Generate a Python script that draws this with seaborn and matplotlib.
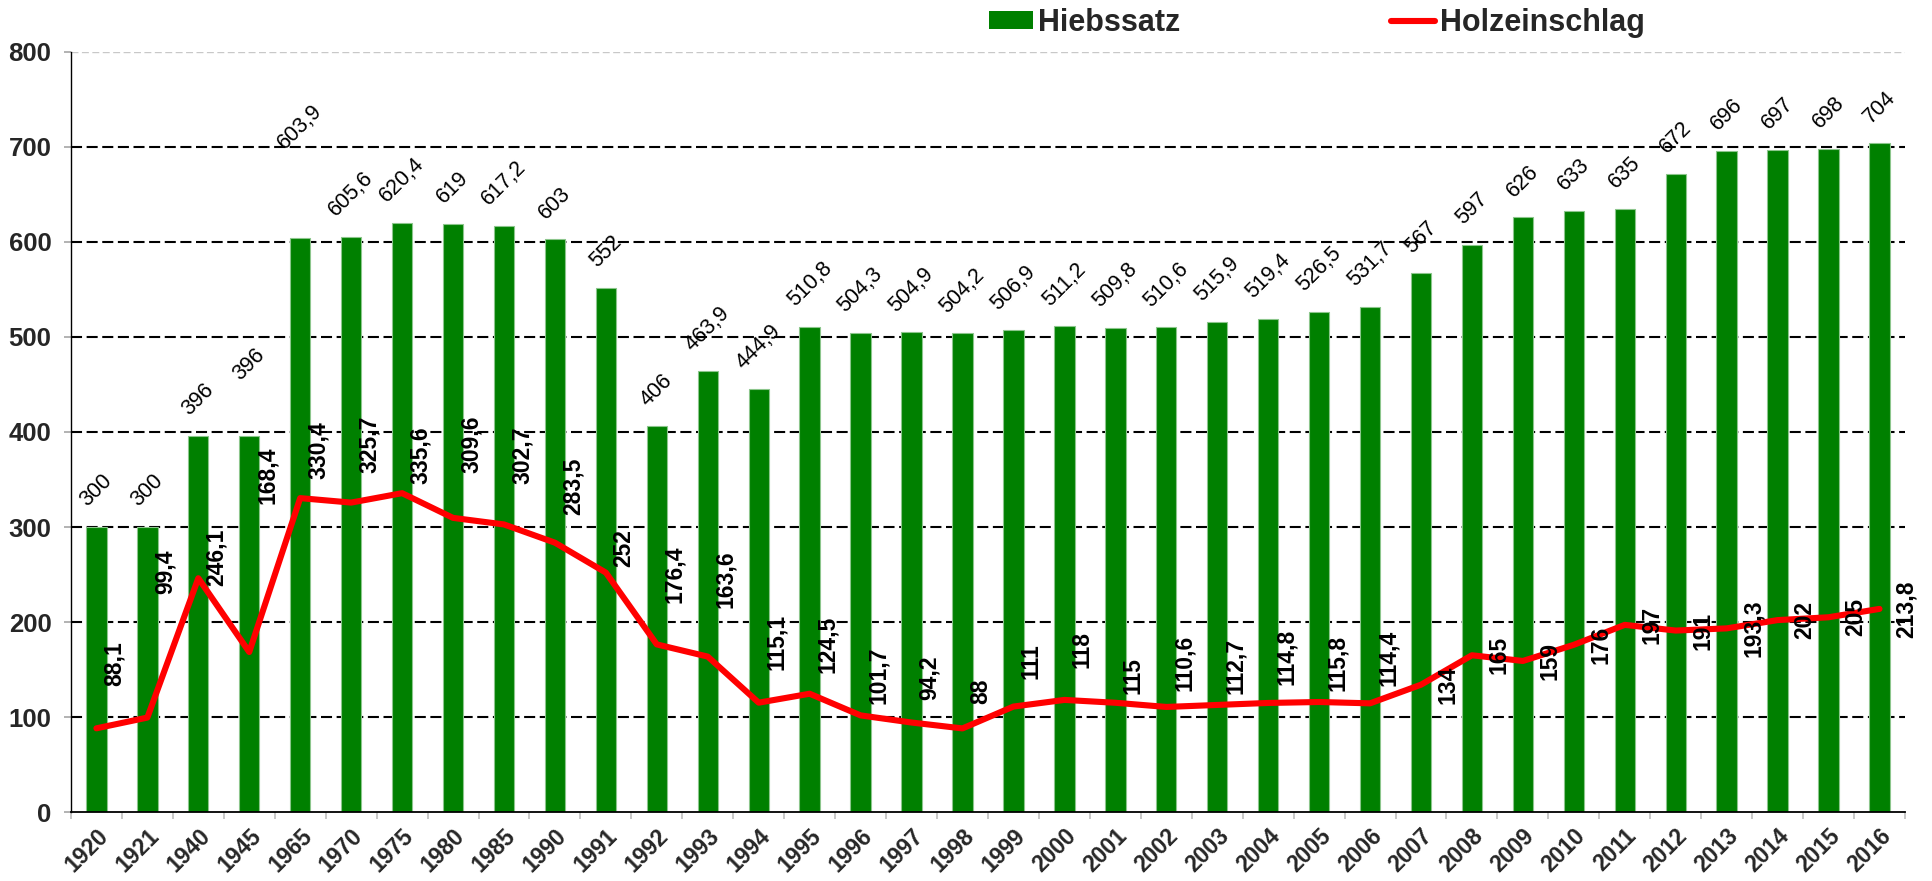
import numpy as np
import pandas as pd
import matplotlib
matplotlib.use("Agg")
import matplotlib.pyplot as plt
import seaborn as sns
from matplotlib.patches import Patch
from matplotlib.lines import Line2D


years = ["1920", "1921", "1940", "1945", "1965", "1970", "1975", "1980", "1985", "1990",
         "1991", "1992", "1993", "1994", "1995", "1996", "1997", "1998", "1999", "2000",
         "2001", "2002", "2003", "2004", "2005", "2006", "2007", "2008", "2009", "2010",
         "2011", "2012", "2013", "2014", "2015", "2016"]

hiebssatz = [300, 300, 396, 396, 603.9, 605.6, 620.4, 619, 617.2, 603,
             552, 406, 463.9, 444.9, 510.8, 504.3, 504.9, 504.2, 506.9, 511.2,
             509.8, 510.6, 515.9, 519.4, 526.5, 531.7, 567, 597, 626, 633,
             635, 672, 696, 697, 698, 704]

holzeinschlag = [88.1, 99.4, 246.1, 168.4, 330.4, 325.7, 335.6, 309.6, 302.7, 283.5,
                 252, 176.4, 163.6, 115.1, 124.5, 101.7, 94.2, 88, 111, 118,
                 115, 110.6, 112.7, 114.8, 115.8, 114.4, 134, 165, 159, 176,
                 197, 191, 193.3, 202, 205, 213.8]

# labels that were dragged by hand in the original chart (value units)
hieb_label_lift = {"1945": 37, "1965": 72}
holz_label_lift = [68, 153, 22, 186, 50, 61, 40, 77, 73, 59,
                   26, 74, 81, 64, 52, 42, 47, 39, 48, 53,
                   29, 46, 41, 48, 41, 48, 0, 0, 0, 0,
                   0, 0, 0, 0, 0, 0]


def fmt(v):
    return f"{v:g}".replace(".", ",")


df = pd.DataFrame({"Jahr": years, "Hiebssatz": hiebssatz, "Holzeinschlag": holzeinschlag})
n = len(df)

sns.set_style("ticks")
plt.rcParams["font.family"] = ["Liberation Sans", "DejaVu Sans"]

fig = plt.figure(figsize=(19.33, 8.81), dpi=100)
ax = fig.add_axes([0.0367, 0.0783, 0.9488, 0.8627])

# grid lines first, dashed
for y in range(100, 800, 100):
    ax.axhline(y, color="black", linewidth=1.5, linestyle=(0, (5.3, 2.2)), zorder=0)
ax.axhline(800, color="#c8c8c8", linewidth=1.0, linestyle=(0, (5, 2.5)), zorder=0)

sns.barplot(data=df, x="Jahr", y="Hiebssatz", color="#008000", saturation=1,
            width=0.4, edgecolor="#8cc68c", linewidth=0.8, errorbar=None, ax=ax, zorder=2)
sns.lineplot(x=np.arange(n), y=df["Holzeinschlag"], color="#ff0000", linewidth=4.4,
             solid_joinstyle="round", solid_capstyle="round", legend=False, ax=ax, zorder=4)

ax.set_xlim(-0.5, n - 0.5)
ax.set_ylim(0, 800)
ax.set_xlabel("")
ax.set_ylabel("")

ax.set_yticks(range(0, 801, 100), labels=[str(t) for t in range(0, 801, 100)],
              fontsize=18.5, fontweight="bold")
ax.tick_params(axis="y", length=5, width=1.2, color="#a6a6a6", pad=9)

ax.set_xticks(range(n), labels=years, rotation=45, ha="right", va="top",
              rotation_mode="anchor", fontsize=16.5, fontweight="bold")
ax.set_xticks(np.arange(-0.5, n, 1), minor=True)
ax.tick_params(axis="x", which="major", length=0, pad=9)
ax.tick_params(axis="x", which="minor", length=5, width=1.2, color="#bfbfbf")

sns.despine(ax=ax, top=True, right=True)
ax.spines["left"].set_color("black")
ax.spines["left"].set_linewidth(1.0)
ax.spines["bottom"].set_color("black")
ax.spines["bottom"].set_linewidth(1.3)

# Hiebssatz labels, slanted above the bars
for i, v in enumerate(hiebssatz):
    lift = hieb_label_lift.get(years[i], 0)
    ax.annotate(fmt(v), xy=(i, v + lift), xytext=(0, 16), textcoords="offset pixels",
                rotation=45, ha="center", va="bottom", fontsize=15.5, color="black", zorder=6)

# Holzeinschlag labels, vertical, right of the points
for i, (v, off) in enumerate(zip(holzeinschlag, holz_label_lift)):
    dx = 27 if off == 0 else 18
    ax.annotate(fmt(v), xy=(i, v + off), xytext=(dx, 0), textcoords="offset pixels",
                rotation=90, ha="center", va="center", fontsize=16.5, fontweight="bold",
                color="black", zorder=6)

handles = [Patch(facecolor="#008000", edgecolor="none", label="Hiebssatz"),
           Line2D([0], [0], color="#ff0000", linewidth=4.4, solid_capstyle="round",
                  label="Holzeinschlag")]
fig.legend(handles=handles, loc="center left", bbox_to_anchor=(989 / 1933, 1 - 23 / 881),
           ncol=2, frameon=False, prop={"weight": "bold", "size": 22},
           handlelength=1.45, handleheight=0.5, handletextpad=0.15, columnspacing=6.9,
           borderpad=0, borderaxespad=0)

fig.savefig("out.png", dpi=100)
